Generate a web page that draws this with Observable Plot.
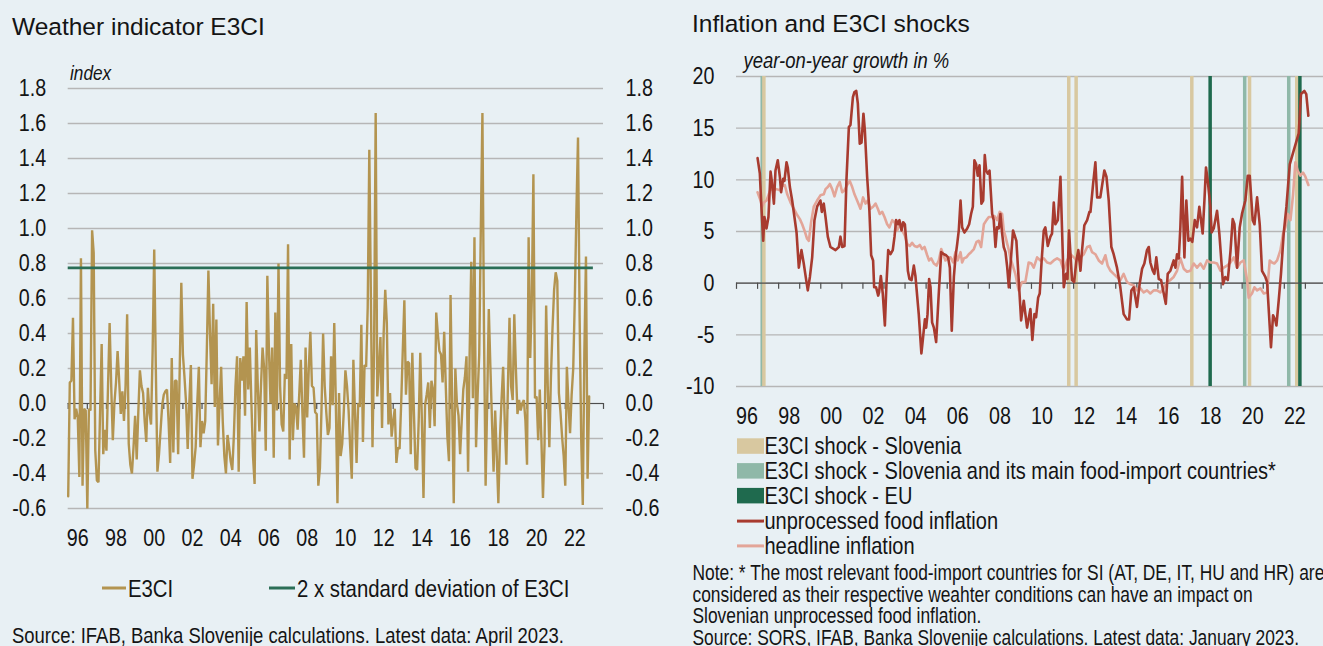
<!DOCTYPE html>
<html><head><meta charset="utf-8">
<script src="https://cdn.jsdelivr.net/npm/d3@7"></script>
<script src="https://cdn.jsdelivr.net/npm/@observablehq/plot@0.6"></script>
<style>
html,body{margin:0;padding:0;background:#e8f0f4;}
body{width:1323px;height:646px;position:relative;overflow:hidden;color:#141414;}
#root{position:absolute;left:0;top:0;width:1323px;height:646px;}
</style></head><body>
<div id="root"></div>
<script>
// ---------- DATA ----------
// Weather indicator E3CI, monthly, Jan 1996 – Apr 2023
const e3ciStartYear = 1996;
const e3ci = [
 -0.53, 0.12, 0.13, 0.49,-0.09,-0.03,-0.08,-0.42, 0.83,-0.47,-0.03,-0.04, // 1996
 -0.60,-0.03,-0.04, 0.99, 0.86,-0.27,-0.44,-0.45,-0.05, 0.34,-0.29,-0.15, // 1997
 -0.27, 0.10, 0.46, 0.10,-0.21, 0.00, 0.12, 0.30, 0.13,-0.06, 0.07,-0.10, // 1998
  0.10, 0.51,-0.23,-0.35,-0.40,-0.25,-0.07,-0.32,-0.05, 0.19, 0.10, 0.06, // 1999
 -0.10,-0.22, 0.09,-0.05,-0.12, 0.30, 0.88, 0.20,-0.39,-0.29,-0.15,-0.01, // 2000
  0.05, 0.07, 0.08,-0.10,-0.34, 0.26,-0.28, 0.13, 0.13,-0.29, 0.20, 0.69, // 2001
  0.28, 0.15, 0.00,-0.26, 0.00, 0.22,-0.43,-0.35,-0.25, 0.00, 0.21,-0.25, // 2002
 -0.10,-0.17,-0.10, 0.30, 0.76, 0.40, 0.11, 0.57,-0.02, 0.48,-0.24, 0.00, // 2003
  0.21,-0.10,-0.30,-0.40,-0.18,-0.25,-0.33,-0.38,-0.18, 0.10, 0.27,-0.39, // 2004
  0.26, 0.13, 0.27,-0.07, 0.58, 0.08, 0.32, 0.00,-0.30,-0.46, 0.42, 0.10, // 2005
 -0.16, 0.10, 0.32, 0.20,-0.27, 0.73, 0.30, 0.00, 0.32,-0.31, 0.52,-0.04, // 2006
  0.80, 0.10,-0.12,-0.16, 0.17, 0.14, 0.91,-0.32, 0.34,-0.21, 0.00,-0.02, // 2007
 -0.15, 0.05, 0.25,-0.05,-0.31, 0.32,-0.08, 0.20, 0.41, 0.10, 0.09,-0.05, // 2008
 -0.06,-0.47,-0.37,-0.03, 0.40, 0.10,-0.05,-0.18,-0.14, 0.27,-0.01, 0.46, // 2009
  0.00,-0.57, 0.06,-0.30,-0.23,-0.04, 0.19, 0.10,-0.04,-0.25,-0.43, 0.25, // 2010
 -0.05,-0.34, 0.00,-0.02, 0.45,-0.22, 0.22, 0.21, 0.55, 1.45, 0.60,-0.25, // 2011
  0.32, 1.66, 0.04, 0.20, 0.38,-0.14, 0.40, 0.65, 0.46,-0.12, 0.06,-0.19, // 2012
 -0.10,-0.03,-0.34,-0.25,-0.26, 0.00, 0.30, 0.59, 0.05, 0.24, 0.23,-0.29, // 2013
  0.29,-0.05,-0.37,-0.38,-0.10, 0.29,-0.10,-0.54,-0.01, 0.05, 0.12,-0.14, // 2014
  0.13, 0.08,-0.13, 0.52, 0.40, 0.30, 0.28, 0.12, 0.41, 0.10,-0.19,-0.33, // 2015
  0.62, 0.00,-0.57, 0.20, 0.00,-0.07,-0.29,-0.10, 0.08, 0.15, 0.27,-0.39, // 2016
  0.30, 0.81, 0.03, 0.95,-0.25, 0.05, 0.28, 1.00, 1.66, 0.40,-0.47, 0.01, // 2017
  0.54, 0.21,-0.10,-0.39,-0.04,-0.30,-0.57,-0.20, 0.02, 0.21,-0.10,-0.35, // 2018
  0.10, 0.49, 0.10, 0.02, 0.51, 0.20,-0.06, 0.02,-0.04, 0.00, 0.02,-0.10, // 2019
 -0.35, 0.95, 0.26, 0.60, 1.31, 0.03, 0.04,-0.21, 0.08,-0.20,-0.54,-0.23, // 2020
  0.56, 0.10,-0.25, 0.15, 0.43, 0.65, 0.75, 0.70, 0.06,-0.05,-0.19,-0.30, // 2021
 -0.47, 0.21, 0.00,-0.17, 0.05, 0.20, 0.60, 1.10, 1.52, 0.50,-0.20,-0.58, // 2022
  0.30, 0.84,-0.43, 0.04                                                  // 2023
];
const e3ciThreshold = 0.775;           // 2 x standard deviation of E3CI
const e3ciTicks = [-0.6,-0.4,-0.2,0,0.2,0.4,0.6,0.8,1.0,1.2,1.4,1.6,1.8];
const yearLabels = [1996,1998,2000,2002,2004,2006,2008,2010,2012,2014,2016,2018,2020,2022];

// Inflation, [months since Jan 1997, y-o-y %]
const inflationStartYear = 1997;
const unprocessedFood = [
 [0,12.1],[1.3,10.6],[2.1,7.7],[3.2,4.1],[3.9,6.4],[5.1,5.3],[6.2,6.4],[7.4,10.8],[8.1,9.9],[9.3,7.7],
 [10.2,10.9],[11.5,11.9],[12.7,10.3],[13.4,8.8],[14.6,10.1],[15.3,9.9],[16.5,11.7],[17.2,11.2],[18.4,9.3],[19.7,8.0],
 [21.0,6.4],[22.2,4.9],[23.5,1.5],[25.0,3.2],[26.3,1.9],[27.7,0.3],[28.6,-0.7],[29.8,0.6],[31.1,2.5],[32.4,6.1],
 [33.9,7.4],[35.8,8.0],[36.6,6.9],[37.7,7.7],[38.7,6.4],[40.0,4.5],[41.5,3.5],[44.4,3.2],[46.3,3.5],[47.2,4.5],
 [48.2,3.5],[49.5,3.6],[50.6,9.9],[52.0,15.1],[52.9,15.3],[54.3,18.0],[55.2,18.5],[56.2,18.6],[57.1,17.4],[58.2,13.5],
 [59.2,13.6],[60.3,16.4],[61.1,14.8],[62.4,10.3],[63.7,7.0],[64.7,2.7],[65.8,2.2],[66.4,-0.4],[67.5,-0.4],[68.7,-1.2],
 [69.2,-0.9],[70.2,0.7],[71.3,-1.0],[72.5,-4.1],[73.4,-0.1],[74.4,3.2],[75.7,2.8],[77.0,3.2],[78.0,4.5],[78.9,6.1],
 [79.9,5.7],[80.8,6.1],[82.0,5.1],[82.9,5.9],[83.9,5.7],[84.8,3.8],[85.6,1.2],[86.5,0.4],[87.7,0.3],[89.0,1.7],
 [89.9,0.7],[91.8,-3.0],[93.3,-6.8],[94.1,-5.5],[95.3,-3.5],[96.0,-4.3],[96.8,-3.0],[97.7,0.4],[98.5,-0.4],[99.4,-3.8],
 [100.4,-4.3],[101.7,-5.7],[103.2,-1.0],[104.6,3.0],[106.1,2.8],[107.4,2.7],[108.5,2.5],[109.5,1.5],[110.6,-4.6],[111.8,0.6],
 [112.7,2.5],[113.7,3.8],[114.6,5.1],[115.6,8.0],[116.5,5.4],[117.8,4.9],[119.4,5.3],[120.5,5.7],[121.6,6.7],[122.6,7.4],
 [123.5,11.9],[124.5,11.5],[125.4,10.4],[126.4,11.4],[127.5,7.7],[128.5,8.0],[129.4,12.4],[130.2,10.9],[131.1,10.6],[132.1,10.9],
 [133.6,6.7],[134.5,6.1],[135.5,3.5],[136.4,5.4],[137.4,5.3],[138.3,6.7],[139.3,4.8],[140.2,3.5],[141.2,3.0],[142.2,1.5],
 [143.1,-0.4],[145.5,5.1],[147.4,4.1],[150.1,-3.6],[151.6,-1.7],[153.5,-4.3],[155.4,-2.5],[156.5,-5.5],[157.7,-3.0],[158.6,-3.3],
 [159.8,-1.4],[160.7,-1.0],[161.8,2.2],[163.0,5.1],[163.9,5.4],[165.3,3.6],[166.8,4.5],[167.7,4.8],[168.7,7.8],[169.6,5.7],
 [171.0,6.1],[172.5,10.3],[174.4,-0.4],[175.7,0.9],[176.5,0.4],[177.4,5.1],[179.1,0.3],[180.3,0.1],[181.6,2.2],[182.7,3.2],
 [183.9,1.2],[184.6,2.8],[186.1,5.6],[187.7,6.1],[189.0,6.9],[189.6,6.9],[191.1,9.6],[192.4,11.7],[193.4,8.3],[195.2,8.3],
 [197.5,10.9],[198.7,10.3],[200.0,8.0],[201.5,3.5],[202.8,2.8],[204.7,1.5],[206.6,-0.4],[208.5,-3.0],[210.4,-3.5],[211.6,-3.5],
 [212.9,-0.7],[214.2,-0.4],[216.1,-2.3],[217.6,-0.1],[219.0,1.4],[220.3,1.9],[221.8,3.2],[222.8,3.5],[223.7,2.0],[225.1,1.2],
 [226.0,0.9],[227.1,2.5],[228.5,0.4],[229.8,0.3],[232.5,-2.0],[233.6,0.9],[235.1,1.2],[237.0,2.2],[238.0,1.5],[238.9,2.8],
 [239.9,2.4],[240.8,5.4],[241.8,10.3],[243.1,2.5],[244.2,8.0],[245.4,4.1],[246.5,4.3],[247.6,4.0],[249.0,6.1],[250.3,5.4],
 [251.6,7.4],[253.5,4.8],[254.5,8.0],[255.4,11.2],[256.4,9.9],[257.9,7.4],[258.6,4.9],[259.8,5.3],[261.7,7.0],[263.0,4.8],
 [265.1,-0.1],[266.4,0.6],[267.8,0.3],[269.3,3.0],[270.6,6.2],[271.6,5.7],[273.1,1.5],[274.6,5.4],[275.9,6.7],[277.8,8.0],
 [279.2,10.4],[280.3,10.4],[282.0,6.1],[283.0,5.7],[284.5,8.3],[286.0,5.7],[287.3,1.2],[289.2,0.6],[290.2,0.1],[292.4,-6.2],
 [293.6,-3.1],[294.9,-3.6],[295.5,-4.1],[296.8,-1.7],[298.1,0.9],[299.7,4.9],[301.2,7.4],[303.1,11.5],[305.3,12.8],[308.2,14.5],
 [309.5,18.3],[311.4,18.6],[312.5,18.3],[313.7,16.2]
];
const headlineInflation = [
 [0,8.8],[1.7,8.0],[2.6,7.4],[3.6,7.8],[5.1,8.0],[6.4,8.6],[7.4,9.1],[9.3,9.0],[10.8,9.1],[12.7,9.0],
 [14.0,9.4],[15.5,9.5],[16.9,8.6],[18.8,7.8],[20.7,7.2],[22.2,6.7],[24.1,6.2],[25.4,5.7],[26.7,5.1],[28.2,4.3],
 [29.2,4.1],[30.5,5.9],[32.0,7.4],[33.9,8.0],[35.8,8.5],[37.7,8.6],[38.7,9.1],[40.0,9.3],[41.2,9.6],[42.5,9.1],
 [43.8,8.4],[45.3,9.3],[46.8,9.8],[48.2,8.8],[49.5,9.0],[51.0,9.5],[52.5,9.9],[53.9,9.3],[55.2,8.6],[56.7,8.0],
 [58.6,7.2],[60.1,8.3],[61.5,7.7],[62.8,8.0],[64.3,7.2],[65.8,7.4],[67.2,7.7],[68.5,7.2],[69.6,6.7],[71.0,6.9],
 [72.3,6.4],[73.8,5.7],[75.1,5.4],[76.7,6.1],[78.0,5.9],[79.5,5.1],[81.0,5.7],[82.4,5.1],[83.9,4.6],[85.2,3.8],
 [86.7,3.6],[88.0,3.9],[89.4,3.6],[90.9,3.5],[92.4,3.7],[93.7,3.3],[95.1,3.5],[96.6,2.7],[97.7,2.2],[98.9,2.4],
 [100.4,1.9],[101.9,1.7],[103.2,2.2],[104.6,3.3],[105.7,2.8],[107.0,2.2],[108.4,2.4],[109.9,2.5],[111.4,2.0],[112.7,3.0],
 [114.0,2.2],[115.6,3.0],[116.5,2.0],[117.5,2.4],[119.0,2.5],[120.3,2.8],[121.6,3.0],[123.2,3.3],[124.7,4.0],[126.0,4.1],
 [127.3,3.5],[128.9,5.7],[130.4,6.1],[131.7,6.4],[133.6,6.4],[134.9,6.5],[136.4,6.1],[137.9,6.9],[139.3,6.7],[140.2,5.1],
 [141.2,4.5],[142.2,3.8],[143.1,3.2],[144.0,2.4],[145.0,1.9],[146.8,0.9],[148.7,-0.7],[150.6,0.1],[152.5,0.1],[154.4,2.0],
 [156.0,1.9],[157.3,1.5],[159.2,2.5],[161.1,2.2],[163.0,2.4],[164.9,2.0],[166.8,1.9],[168.7,2.2],[170.6,2.4],[172.5,2.2],
 [174.4,1.2],[176.3,2.2],[178.2,2.8],[180.1,2.5],[182.0,2.2],[183.9,2.5],[185.8,2.8],[187.7,3.5],[189.2,3.6],[190.5,3.0],
 [192.4,2.8],[194.3,2.2],[196.2,1.9],[198.1,2.7],[199.4,1.7],[201.0,1.2],[202.8,0.9],[204.7,0.6],[206.6,0.3],[208.5,0.9],
 [210.4,0.1],[212.3,-0.1],[214.2,-0.2],[216.1,-0.7],[218.0,-0.5],[219.9,-0.9],[221.8,-0.7],[223.7,-1.0],[225.6,-0.7],[227.5,-0.7],
 [229.4,-0.9],[231.3,-0.5],[233.2,0.1],[235.1,0.3],[237.0,0.6],[238.9,1.2],[240.8,2.4],[242.7,1.4],[244.6,1.1],[246.5,1.2],
 [248.4,1.9],[250.3,1.5],[252.2,1.9],[254.1,1.4],[256.0,2.2],[257.9,2.0],[259.8,2.0],[261.7,1.9],[263.6,1.2],[265.5,1.5],
 [267.4,1.7],[269.3,2.0],[271.2,2.5],[273.1,1.5],[275.0,2.0],[276.9,2.2],[278.8,0.3],[279.7,-1.4],[281.6,-1.0],[283.0,-0.4],
 [284.5,-0.7],[286.4,-0.5],[288.3,-1.0],[290.2,-0.9],[291.7,2.2],[293.0,2.0],[294.3,1.9],[295.9,2.2],[297.8,3.2],[299.3,4.8],
 [300.6,5.4],[302.0,6.7],[303.5,6.1],[305.0,8.6],[306.3,11.7],[307.6,10.9],[309.1,10.4],[310.7,10.7],[312.0,10.3],[313.7,9.5]
];
// E3CI shock months (decimal years)
const shockSlovenia = [1997.30, 2011.77, 2012.12, 2017.61, 2020.35, 2022.59];
const shockSloveniaImports = [1997.22, 2020.12, 2022.21];
const shockEU = [2018.48, 2022.74];
const inflationTicks = [-10,-5,0,5,10,15,20];

// ---------- STYLE ----------
const C = {
  bg:"#e8f0f4", text:"#141414", grid:"#b6b6b6", axis:"#4d4d4d",
  e3ci:"#b39450", sd:"#2b6e56",
  food:"#a83b2f", head:"#e3a598",
  tan:"#d8c8a0", lgreen:"#8fb8a8", dgreen:"#1f6a4e"
};
function fontAvailable(name){
  const ctx=document.createElement("canvas").getContext("2d");
  const s="mmmmmmmmmmlli1WQ abcdefghij";
  ctx.font="40px monospace"; const a=ctx.measureText(s).width;
  ctx.font=`40px "${name}", monospace`; const b=ctx.measureText(s).width;
  return Math.abs(a-b)>0.5;
}
const NARROW = fontAvailable("Liberation Sans Narrow");
const NF = NARROW ? '"Liberation Sans Narrow", "Arial Narrow", sans-serif' : '"Liberation Sans", Arial, sans-serif';
const RF = '"Liberation Sans", Arial, sans-serif';
const TICK = 24;
const yy = d => String(d % 100).padStart(2,"0");

const root = document.getElementById("root");
function place(svg,left,top){
  svg.style.position="absolute"; svg.style.left=left+"px"; svg.style.top=top+"px";
  svg.style.overflow="visible"; root.appendChild(svg);
}

// ---------- LEFT CHART ----------
const e3ciData = e3ci.map((v,i)=>({t:e3ciStartYear + i/12, v}));
const left = Plot.plot({
  width:660, height:560,
  marginLeft:67.7, marginRight:57, marginTop:88, marginBottom:52,
  x:{domain:[1996,2024], axis:null},
  y:{domain:[-0.6,1.8], axis:null},
  style:{background:"transparent", fontFamily:NF, fontSize:TICK+"px", color:C.text},
  marks:[
    Plot.ruleY(e3ciTicks,{stroke:C.grid, strokeWidth:1.3}),
    Plot.axisY({anchor:"left", ticks:e3ciTicks, tickSize:0, tickPadding:22, tickFormat:d=>d.toFixed(1), label:null, fontSize:TICK}),
    Plot.axisY({anchor:"right", ticks:e3ciTicks, tickSize:0, tickPadding:22, tickFormat:d=>d.toFixed(1), label:null, fontSize:TICK}),
    Plot.ruleY([0],{stroke:C.axis, strokeWidth:1.2}),
    Plot.ruleX(d3.range(1996,2025),{x:d=>d, y1:0, y2:-0.034, stroke:C.axis, strokeWidth:1.2}),
    Plot.line(e3ciData,{x:"t", y:"v", stroke:C.e3ci, strokeWidth:2.4, strokeLinejoin:"miter"}),
    Plot.ruleY([e3ciThreshold],{x1:1996, x2:2023.47, stroke:C.sd, strokeWidth:2.8}),
    Plot.text(yearLabels,{x:d=>d+0.5, text:yy, frameAnchor:"bottom", dy:30, lineAnchor:"middle", fontSize:TICK, fill:C.text})
  ]
});
place(left,0,0);

// ---------- RIGHT CHART ----------
const toYear = m => inflationStartYear + m/12;
const foodData = unprocessedFood.map(([m,v])=>({t:toYear(m), v}));
const headData = headlineInflation.map(([m,v])=>({t:toYear(m), v}));
const right = Plot.plot({
  width:643, height:430,
  marginLeft:56, marginRight:0, marginTop:76, marginBottom:44,
  x:{domain:[1996,2023.86], axis:null},
  y:{domain:[-10,20], axis:null},
  style:{background:"transparent", fontFamily:NF, fontSize:TICK+"px", color:C.text},
  marks:[
    Plot.ruleY(inflationTicks,{stroke:C.grid, strokeWidth:1.3}),
    Plot.axisY({anchor:"left", ticks:inflationTicks, tickSize:0, tickPadding:22, tickFormat:d=>String(d), label:null, fontSize:TICK}),
    Plot.ruleX(shockSloveniaImports,{x:d=>d, y1:-10, y2:20, stroke:C.lgreen, strokeWidth:3.5}),
    Plot.ruleX(shockSlovenia,{x:d=>d, y1:-10, y2:20, stroke:C.tan, strokeWidth:3.5}),
    Plot.ruleX(shockEU,{x:d=>d, y1:-10, y2:20, stroke:C.dgreen, strokeWidth:3.5}),
    Plot.ruleY([0],{stroke:C.axis, strokeWidth:1.2}),
    Plot.ruleX(d3.range(1996,2024),{x:d=>d, y1:0, y2:-0.6, stroke:C.axis, strokeWidth:1.2}),
    Plot.line(headData,{x:"t", y:"v", stroke:C.head, strokeWidth:2.6}),
    Plot.line(foodData,{x:"t", y:"v", stroke:C.food, strokeWidth:2.6}),
    Plot.text(yearLabels,{x:d=>d+0.5, text:yy, frameAnchor:"bottom", dy:29.5, lineAnchor:"middle", fontSize:TICK, fill:C.text})
  ]
});
place(right,680,0);

// ---------- TEXT OVERLAY (titles, legends, notes) ----------
const ov = d3.select(root).append("svg")
  .attr("width",1323).attr("height",646)
  .style("position","absolute").style("left","0px").style("top","0px");
function txt(x,y,s,size,opts={}){
  return ov.append("text").attr("x",x).attr("y",y).text(s)
    .attr("font-family", opts.regular ? RF : NF)
    .attr("font-size", size)
    .attr("font-style", opts.italic ? "italic" : null)
    .attr("fill", C.text)
    .attr("class", opts.regular ? "reg" : "nar");
}
// left panel
txt(12,35,"Weather indicator E3CI",24.5,{regular:true});
txt(70,80,"index",21,{italic:true});
ov.append("line").attr("x1",102).attr("x2",126).attr("y1",588).attr("y2",588).attr("stroke",C.e3ci).attr("stroke-width",3);
txt(128,597,"E3CI",24.8);
ov.append("line").attr("x1",269).attr("x2",295).attr("y1",588).attr("y2",588).attr("stroke",C.sd).attr("stroke-width",3);
txt(297,597,"2 x standard deviation of E3CI",24.8);
txt(12,643,"Source: IFAB, Banka Slovenije calculations. Latest data: April 2023.",22.5);
// right panel
txt(692,32,"Inflation and E3CI shocks",24.5,{regular:true});
txt(743.5,68,"year-on-year growth in %",22.5,{italic:true});
const legendRows = [
  {label:"E3CI shock - Slovenia", type:"rect", color:C.tan},
  {label:"E3CI shock - Slovenia and its main food-import countries*", type:"rect", color:C.lgreen},
  {label:"E3CI shock - EU", type:"rect", color:C.dgreen},
  {label:"unprocessed food inflation", type:"line", color:C.food},
  {label:"headline inflation", type:"line", color:C.head}
];
legendRows.forEach((r,i)=>{
  const base = 454.3 + i*24.8;
  if(r.type==="rect") ov.append("rect").attr("x",737).attr("y",base-16).attr("width",27).attr("height",15.5).attr("fill",r.color);
  else ov.append("line").attr("x1",737).attr("x2",764).attr("y1",base-7.6).attr("y2",base-7.6).attr("stroke",r.color).attr("stroke-width",3);
  txt(764.5,base,r.label,24.4);
});
const notes = [
  "Note: * The most relevant food-import countries for SI (AT, DE, IT, HU and HR) are",
  "considered as their respective weahter conditions can have an impact on",
  "Slovenian unprocessed food inflation.",
  "Source: SORS, IFAB, Banka Slovenije calculations. Latest data: January 2023."
];
notes.forEach((s,i)=>txt(692.5, 580.2 + i*21.6, s, 21.2));

// Fallback: if no narrow face is installed, compress the regular face horizontally.
if(!NARROW){
  const all = [...left.querySelectorAll("text"), ...right.querySelectorAll("text"), ...ov.selectAll("text.nar").nodes()];
  all.forEach(t=>{
    const w = t.getComputedTextLength();
    if(w>0){ t.setAttribute("textLength", (w*0.82).toFixed(2)); t.setAttribute("lengthAdjust","spacingAndGlyphs"); }
  });
}
</script>
</body></html>
